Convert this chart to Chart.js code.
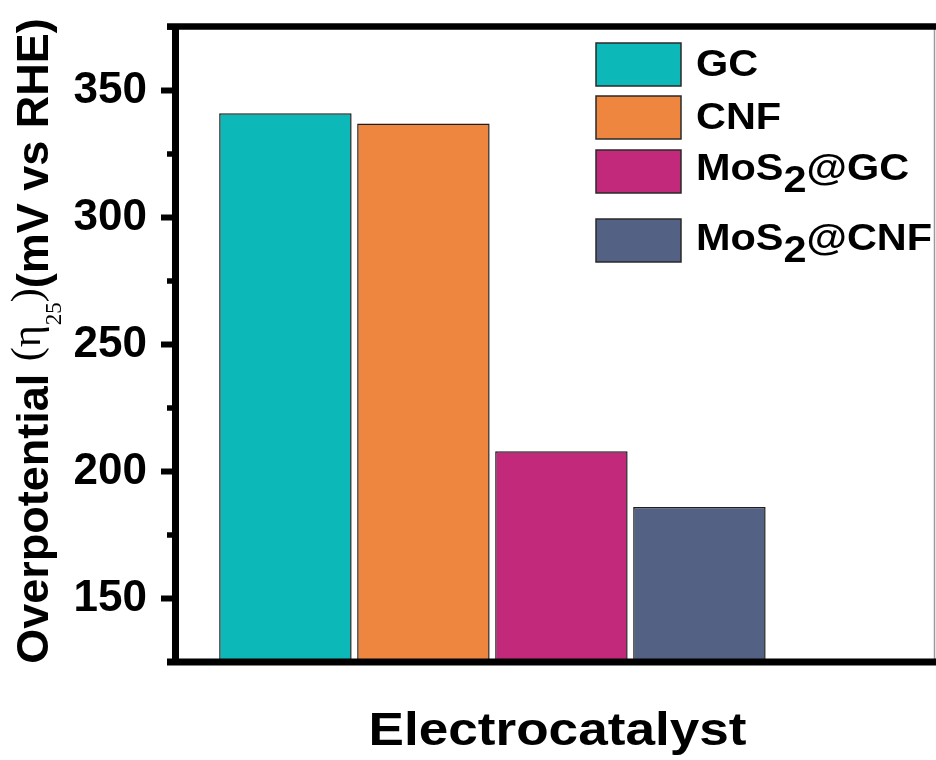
<!DOCTYPE html>
<html>
<head>
<meta charset="utf-8">
<script src="https://cdn.jsdelivr.net/npm/chart.js@4"></script>
<style>
  html, body { margin: 0; padding: 0; background: #fff; }
  #wrap { width: 936px; height: 760px; }
</style>
</head>
<body>
<div id="wrap"><canvas id="c" width="936" height="760"></canvas></div>
<script>
// Overpotential at 25 mA cm-2 for each electrocatalyst
const catalysts = ['GC', 'CNF', 'MoS₂@GC', 'MoS₂@CNF'];
const overpotential = [341, 337, 208, 186];
const slotPositions = [1, 2, 3, 4];
const barColors = ['#0CB8B8', '#EE8640', '#C2297A', '#536185'];

// y axis ticks
const majorTicks = [150, 200, 250, 300, 350];
const minorTicks = [125, 175, 225, 275, 325, 375];
const yRange = [125, 375];
const xRange = [0.2, 5.7];

const SANS = '"Liberation Sans", Arial, sans-serif';
const SERIF = '"Liberation Serif", "Times New Roman", serif';

// draws text where '₂' is rendered as a lowered, full-size 2
function drawRich(ctx, text, x, y, size, weight, drop) {
  const parts = text.split('₂');
  let cx = x;
  parts.forEach((p, i) => {
    ctx.font = `${weight} ${size}px ${SANS}`;
    ctx.fillText(p, cx, y);
    cx += ctx.measureText(p).width;
    if (i < parts.length - 1) {
      ctx.fillText('2', cx, y + drop);
      cx += ctx.measureText('2').width;
    }
  });
}

// frame: thick top/bottom lines, thin right edge, minor ticks
const framePlugin = {
  id: 'frame',
  afterDatasetsDraw(chart) {
    const { ctx, chartArea: a } = chart;
    const y = chart.scales.y;
    ctx.save();
    ctx.strokeStyle = '#000';
    ctx.lineCap = 'butt';
    // minor ticks on the left axis
    ctx.lineWidth = 5.5;
    minorTicks.forEach(v => {
      const py = y.getPixelForValue(v);
      ctx.beginPath();
      ctx.moveTo(a.left - 8, py);
      ctx.lineTo(a.left, py);
      ctx.stroke();
    });
    // right edge
    ctx.strokeStyle = '#9a9a9a';
    ctx.lineWidth = 1.5;
    ctx.beginPath();
    ctx.moveTo(a.right + 0.5, a.top);
    ctx.lineTo(a.right + 0.5, a.bottom);
    ctx.stroke();
    // top and bottom lines
    ctx.strokeStyle = '#000';
    ctx.lineWidth = 6.5;
    ctx.beginPath();
    ctx.moveTo(a.left - 8, a.top - 0.5);
    ctx.lineTo(chart.width, a.top - 0.5);
    ctx.stroke();
    ctx.lineWidth = 7;
    ctx.beginPath();
    ctx.moveTo(a.left - 8, a.bottom);
    ctx.lineTo(chart.width, a.bottom);
    ctx.stroke();
    ctx.restore();
  }
};

// legend boxes and labels
const legendPlugin = {
  id: 'boxLegend',
  afterDraw(chart, args, opts) {
    const { ctx } = chart;
    ctx.save();
    chart.data.datasets.forEach((ds, i) => {
      const top = opts.rowTops[i];
      ctx.fillStyle = ds.backgroundColor;
      ctx.fillRect(opts.boxX, top, opts.boxW, opts.boxH);
      ctx.strokeStyle = '#2a2a2a';
      ctx.lineWidth = 1.5;
      ctx.strokeRect(opts.boxX, top, opts.boxW, opts.boxH);
      ctx.fillStyle = '#000';
      ctx.textBaseline = 'alphabetic';
      ctx.textAlign = 'left';
      ctx.save();
      ctx.translate(opts.textX, top + opts.baselines[i]);
      ctx.scale(opts.stretch, 1);
      drawRich(ctx, ds.label, 0, 0, opts.fontSize, 'bold', 12);
      ctx.restore();
    });
    ctx.restore();
  }
};

// axis titles
const titlePlugin = {
  id: 'axisTitles',
  afterDraw(chart, args, opts) {
    const { ctx, chartArea: a } = chart;
    ctx.save();
    ctx.fillStyle = '#000';
    ctx.textBaseline = 'alphabetic';
    ctx.textAlign = 'center';
    // x title
    ctx.save();
    ctx.translate((a.left + a.right) / 2 + 3, opts.xBaseline);
    ctx.scale(opts.stretch, 1);
    ctx.font = `bold 47px ${SANS}`;
    ctx.fillText('Electrocatalyst', 0, 0);
    ctx.restore();

    // y title, mixed fonts, read bottom to top
    const segs = [
      { t: 'Overpotential ', f: `bold 45px ${SANS}`, dy: 0 },
      { t: '(', f: `42px ${SERIF}`, dy: -8 },
      { t: 'η', f: `42px ${SERIF}`, dy: -8 },
      { t: '25', f: `23px ${SERIF}`, dy: 13 },
      { t: ')', f: `42px ${SERIF}`, dy: -8 },
      { t: '(mV vs RHE)', f: `bold 45px ${SANS}`, dy: 0 }
    ];
    ctx.textAlign = 'left';
    let total = 0;
    segs.forEach(s => { ctx.font = s.f; s.w = ctx.measureText(s.t).width; total += s.w; });
    ctx.translate(opts.yBaselineX, opts.yCenter);
    ctx.rotate(-Math.PI / 2);
    let u = -total / 2;
    segs.forEach(s => {
      ctx.font = s.f;
      ctx.fillText(s.t, u, s.dy);
      u += s.w;
    });
    ctx.restore();
  }
};

const chart = new Chart(document.getElementById('c'), {
  type: 'bar',
  data: {
    datasets: catalysts.map((name, i) => ({
      label: name,
      data: [{ x: slotPositions[i], y: overpotential[i] }],
      backgroundColor: barColors[i],
      borderColor: '#1e1e1e',
      borderWidth: 1.5,
      borderSkipped: false,
      grouped: false,
      barPercentage: 0.96,
      categoryPercentage: 1
    }))
  },
  options: {
    responsive: false,
    devicePixelRatio: 1,
    animation: false,
    layout: { padding: { top: 27, right: 2, bottom: 98, left: 0 } },
    plugins: {
      legend: { display: false },
      tooltip: { enabled: false },
      boxLegend: {
        boxX: 596, boxW: 85, boxH: 43,
        rowTops: [43, 96, 150, 219],
        baselines: [33, 33, 30, 31],
        textX: 696, fontSize: 37, stretch: 1.12
      },
      axisTitles: { xBaseline: 745, stretch: 1.13, yBaselineX: 48, yCenter: 341 }
    },
    scales: {
      x: {
        type: 'linear',
        min: xRange[0],
        max: xRange[1],
        offset: false,
        grid: { offset: false },
        display: false,
        afterBuildTicks: s => { s.ticks = slotPositions.map(v => ({ value: v })); }
      },
      y: {
        min: yRange[0],
        max: yRange[1],
        afterBuildTicks: s => { s.ticks = majorTicks.map(v => ({ value: v })); },
        afterFit: s => { s.width = 175; s.paddingTop = 0; s.paddingBottom = 0; },
        ticks: {
          autoSkip: false,
          padding: 14,
          color: '#000',
          font: { family: SANS, size: 44, weight: 'bold' }
        },
        grid: {
          drawOnChartArea: false,
          drawTicks: true,
          tickLength: 14,
          tickWidth: 6,
          tickColor: '#000'
        },
        border: { display: true, width: 7, color: '#000' }
      }
    }
  },
  plugins: [framePlugin, legendPlugin, titlePlugin]
});
</script>
</body>
</html>
